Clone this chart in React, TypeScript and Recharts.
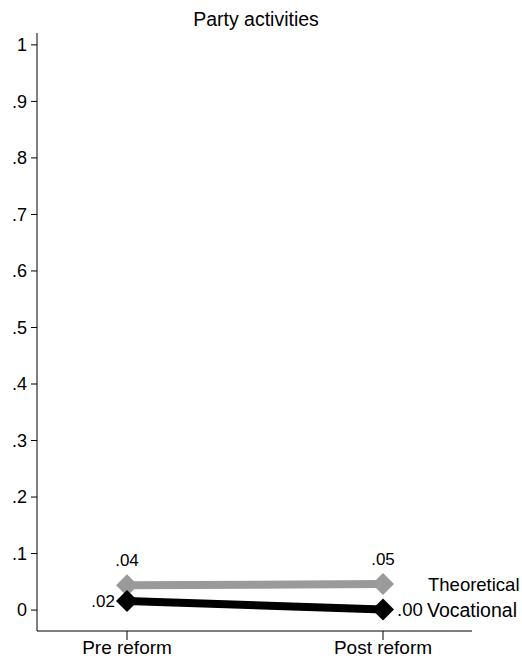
import { LineChart, Line, XAxis, YAxis, LabelList } from 'recharts'

const periods = ['Pre reform', 'Post reform']
const theoretical = [0.044, 0.046]
const vocational = [0.016, 0.001]
const yTicks = [0, 0.1, 0.2, 0.3, 0.4, 0.5, 0.6, 0.7, 0.8, 0.9, 1]

const data = periods.map((period, i) => ({
  period,
  theoretical: theoretical[i],
  vocational: vocational[i],
}))

const FONT = '"Liberation Sans", Arial, sans-serif'

const fmtTick = (v: number) => (v === 0 ? '0' : v === 1 ? '1' : String(v).replace(/^0/, ''))
const fmtVal = (v: number) => v.toFixed(2).replace(/^0/, '')

const diamond = (color: string) => (props: any) => {
  const { cx, cy, index } = props
  const r = 11
  return (
    <polygon
      key={`d-${index}`}
      points={`${cx},${cy - r} ${cx + r},${cy} ${cx},${cy + r} ${cx - r},${cy}`}
      fill={color}
    />
  )
}

const theoLabel = (props: any) => {
  const { x, y, value, index } = props
  return (
    <g key={`tl-${index}`}>
      <text x={x} y={y - 25} textAnchor="middle" dominantBaseline="central" fontSize={17} fill="#000" fontFamily={FONT}>
        {fmtVal(value)}
      </text>
      {index === periods.length - 1 && (
        <text x={x + 45} y={y} dominantBaseline="central" fontSize={18.5} fill="#000" fontFamily={FONT}>
          Theoretical
        </text>
      )}
    </g>
  )
}

const vocLabel = (props: any) => {
  const { x, y, value, index } = props
  const last = index === periods.length - 1
  return (
    <g key={`vl-${index}`}>
      <text
        x={last ? x + 14 : x - 12}
        y={y}
        textAnchor={last ? 'start' : 'end'}
        dominantBaseline="central"
        fontSize={last ? 18.5 : 17}
        fill="#000"
        fontFamily={FONT}
      >
        {fmtVal(value)}
      </text>
      {last && (
        <text x={x + 44} y={y} dominantBaseline="central" fontSize={19.5} fill="#000" fontFamily={FONT}>
          Vocational
        </text>
      )}
    </g>
  )
}

export default function App() {
  return (
    <div style={{ position: 'absolute', left: 0, top: 0, width: 522, height: 660, background: '#fff', fontFamily: FONT }}>
      <LineChart width={522} height={660} data={data} margin={{ top: 33, right: 50, bottom: 4, left: 7 }} style={{ overflow: 'visible' }}>
        <text x={256} y={19} textAnchor="middle" dominantBaseline="central" fontSize={19.5} fill="#000" fontFamily={FONT}>
          Party activities
        </text>
        <XAxis
          dataKey="period"
          padding={{ left: 90, right: 89 }}
          height={25}
          tickSize={9}
          tickMargin={1}
          stroke="#000"
          tick={{ fill: '#000', fontSize: 19, fontFamily: FONT }}
        />
        <YAxis
          type="number"
          domain={[-0.037, 1.021]}
          allowDataOverflow
          ticks={yTicks}
          tickFormatter={fmtTick}
          width={30}
          tickSize={6}
          tickMargin={4}
          stroke="#000"
          tick={{ fill: '#000', fontSize: 18, fontFamily: FONT }}
        />
        <Line
          dataKey="theoretical"
          stroke="#9a9a9a"
          strokeWidth={8}
          dot={diamond('#9a9a9a')}
          activeDot={false}
          isAnimationActive={false}
        >
          <LabelList dataKey="theoretical" content={theoLabel} />
        </Line>
        <Line
          dataKey="vocational"
          stroke="#000"
          strokeWidth={8}
          dot={diamond('#000')}
          activeDot={false}
          isAnimationActive={false}
        >
          <LabelList dataKey="vocational" content={vocLabel} />
        </Line>
      </LineChart>
    </div>
  )
}
